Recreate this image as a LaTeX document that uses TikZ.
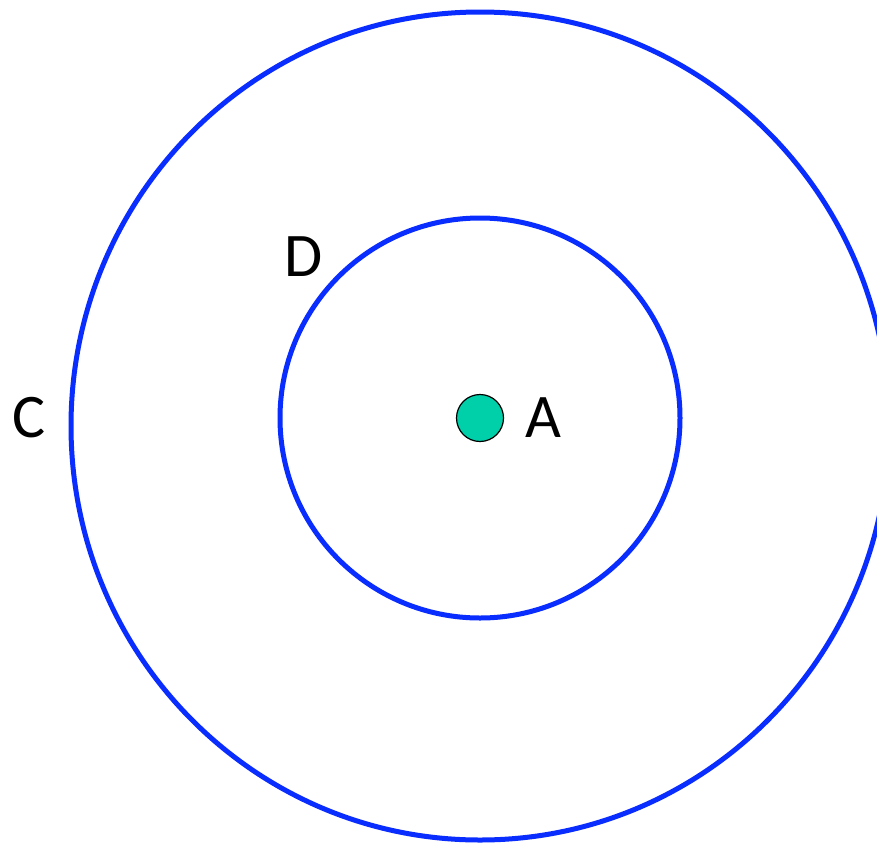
\documentclass[tikz,border=0pt]{standalone}
\usepackage{fontspec}
\setmainfont{Carlito}
\usepackage{tikz}
\usetikzlibrary{positioning}
\definecolor{ringblue}{RGB}{10,45,255}
\definecolor{dotteal}{RGB}{0,208,170}
\tikzset{
  ring/.style={draw=ringblue,line width=5pt},
  lbl/.style={inner sep=0pt,font=\fontsize{62}{62}\selectfont},
}

\begin{document}
\begin{tikzpicture}[x=1pt,y=-1pt]
  \useasboundingbox (0,0) rectangle (877,846);
  \clip (0,0) rectangle (877,846);
  \fill[white] (0,0) rectangle (877,846);
  % rings
  \draw[ring] (480,426) circle[x radius=409pt,y radius=414pt];
  \draw[ring] (480,418) circle[radius=200pt];
  % centre point
  \node[circle,draw=black,line width=1.2pt,fill=dotteal,minimum size=47pt,inner sep=0pt] (ptA) at (480,418) {};
  \node[lbl,right=21pt of ptA] (labA) {A};
  \node[lbl] (labD) at (304,257) {D};
  \node[lbl] (labC) at (29,418) {C};
\end{tikzpicture}
\end{document}
